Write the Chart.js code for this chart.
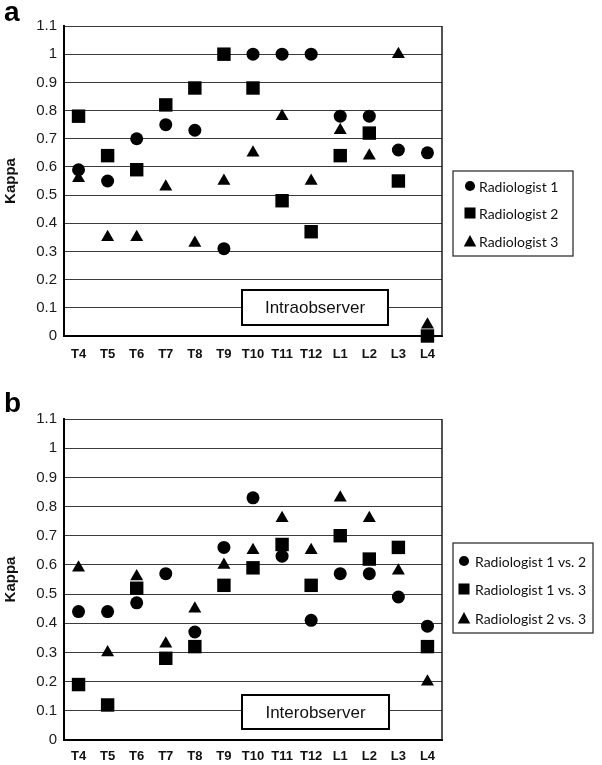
<!DOCTYPE html>
<html><head><meta charset="utf-8">
<script src="https://cdn.jsdelivr.net/npm/chart.js@4"></script>
<style>
html,body{margin:0;padding:0;background:#fff;}
#wrap{position:relative;width:602px;height:765px;overflow:hidden;background:#fff;}
canvas{position:absolute;left:0;}
</style></head><body>
<div id="wrap">
<canvas id="ca" width="602" height="370" style="top:0"></canvas>
<canvas id="cb" width="602" height="395" style="top:370px"></canvas>
</div>
<script>
const categories = ['T4','T5','T6','T7','T8','T9','T10','T11','T12','L1','L2','L3','L4'];
const yTickLabels = ['0','0.1','0.2','0.3','0.4','0.5','0.6','0.7','0.8','0.9','1','1.1'];

const intraLabels = ['Radiologist 1','Radiologist 2','Radiologist 3'];
const intraR1 = [0.59,0.55,0.70,0.75,0.73,0.31,1.00,1.00,1.00,0.78,0.78,0.66,0.65];
const intraR2 = [0.78,0.64,0.59,0.82,0.88,1.00,0.88,0.48,0.37,0.64,0.72,0.55,0.00];
const intraR3 = [0.56,0.35,0.35,0.53,0.33,0.55,0.65,0.78,0.55,0.73,0.64,1.00,0.04];

const interLabels = ['Radiologist 1 vs. 2','Radiologist 1 vs. 3','Radiologist 2 vs. 3'];
const inter12 = [0.44,0.44,0.47,0.57,0.37,0.66,0.83,0.63,0.41,0.57,0.57,0.49,0.39];
const inter13 = [0.19,0.12,0.52,0.28,0.32,0.53,0.59,0.67,0.53,0.70,0.62,0.66,0.32];
const inter23 = [0.59,0.30,0.56,0.33,0.45,0.60,0.65,0.76,0.65,0.83,0.76,0.58,0.20];

const panelTitles = ['a','b'];
const boxTexts = ['Intraobserver','Interobserver'];
const axisTitle = 'Kappa';

const pointStyles = ['circle','rect','triangle'];
const pointRadii = [6.5, 9.5, 7.5];

function drawMarker(ctx, style, x, y, s) {
  ctx.beginPath();
  if (style === 'circle') {
    ctx.arc(x, y, s * 0.42, 0, Math.PI * 2);
  } else if (style === 'rect') {
    ctx.rect(x - s * 0.46, y - s * 0.46, s * 0.92, s * 0.92);
  } else {
    ctx.moveTo(x, y - s * 0.5);
    ctx.lineTo(x + s * 0.52, y + s * 0.45);
    ctx.lineTo(x - s * 0.52, y + s * 0.45);
    ctx.closePath();
  }
  ctx.fill();
}

const extras = {
  id: 'extras',
  beforeDatasetsDraw(chart, args, o) {
    const ctx = chart.ctx, a = chart.chartArea;
    ctx.save();
    // right border of plot
    ctx.strokeStyle = '#1a1a1a';
    ctx.lineWidth = 1.5;
    ctx.beginPath();
    ctx.moveTo(a.right, a.top);
    ctx.lineTo(a.right, a.bottom);
    ctx.stroke();
    // annotation box
    const b = o.box;
    ctx.fillStyle = '#fff';
    ctx.fillRect(b.x, b.y, b.w, b.h);
    ctx.strokeStyle = '#000';
    ctx.lineWidth = 2;
    ctx.strokeRect(b.x, b.y, b.w, b.h);
    ctx.fillStyle = '#111';
    ctx.font = '17px "Liberation Sans", Arial, sans-serif';
    ctx.textAlign = 'center';
    ctx.textBaseline = 'middle';
    ctx.fillText(b.text, b.x + b.w / 2, b.y + b.h / 2 + 1);
    ctx.restore();
  },
  afterDraw(chart, args, o) {
    const ctx = chart.ctx;
    ctx.save();
    // panel letter
    ctx.fillStyle = '#000';
    ctx.font = 'bold 28px "Liberation Sans", Arial, sans-serif';
    ctx.textAlign = 'left';
    ctx.textBaseline = 'alphabetic';
    ctx.fillText(o.letter.text, o.letter.x, o.letter.y);
    // legend
    const L = o.legend;
    ctx.fillStyle = '#fff';
    ctx.fillRect(L.x, L.y, L.w, L.h);
    ctx.strokeStyle = '#333';
    ctx.lineWidth = 1.3;
    ctx.strokeRect(L.x, L.y, L.w, L.h);
    ctx.font = '14px Lato, "Open Sans", sans-serif';
    ctx.textBaseline = 'middle';
    chart.data.datasets.forEach((ds, i) => {
      const y = L.rows[i];
      ctx.fillStyle = '#000';
      drawMarker(ctx, ds.pointStyle, L.mx, y, 12);
      ctx.fillStyle = '#111';
      ctx.fillText(ds.label, L.tx, y + 1);
    });
    ctx.restore();
  }
};

function makeChart(id, labels, series, o) {
  const datasets = series.map((data, i) => ({
    label: labels[i],
    data: data,
    showLine: false,
    pointStyle: pointStyles[i],
    pointRadius: pointRadii[i],
    pointHoverRadius: pointRadii[i],
    pointBackgroundColor: '#000',
    pointBorderColor: '#000',
    pointBorderWidth: 0,
    clip: false
  }));
  return new Chart(document.getElementById(id), {
    type: 'line',
    data: { labels: categories, datasets },
    options: {
      responsive: false,
      animation: false,
      events: [],
      layout: { padding: { left: 0, right: 160, top: o.padTop, bottom: 0 } },
      plugins: {
        legend: { display: false },
        tooltip: { enabled: false },
        extras: o.extras
      },
      scales: {
        x: {
          type: 'category',
          offset: true,
          grid: { display: false, drawTicks: false },
          border: { display: true, color: '#000', width: 2 },
          ticks: {
            padding: o.xPad,
            color: '#111',
            font: { family: '"Liberation Sans", Arial, sans-serif', size: 13, weight: 'bold' },
            maxRotation: 0, autoSkip: false
          },
          afterFit: s => { s.height = o.xHeight; }
        },
        y: {
          min: 0, max: 1.1,
          ticks: {
            stepSize: 0.1,
            padding: 7,
            color: '#1a1a1a',
            font: { family: '"Liberation Sans", Arial, sans-serif', size: 15 },
            callback: (v, i) => yTickLabels[i]
          },
          grid: { color: '#3a3a3a', lineWidth: 1, drawTicks: false },
          border: { display: true, color: '#000', width: 2 },
          title: {
            display: true, text: axisTitle, color: '#111',
            font: { family: '"Liberation Sans", Arial, sans-serif', size: 15, weight: 'bold' },
            padding: { top: 2, bottom: 0 }
          },
          afterFit: s => { s.width = 64; }
        }
      }
    },
    plugins: [extras]
  });
}

makeChart('ca', intraLabels, [intraR1, intraR2, intraR3], {
  padTop: 26, xHeight: 34, xPad: 11,
  extras: {
    box: { x: 242, y: 290, w: 146, h: 35, text: boxTexts[0] },
    letter: { text: panelTitles[0], x: 4, y: 21 },
    legend: { x: 453, y: 171, w: 120, h: 85, mx: 470, tx: 479, rows: [186, 213, 241] }
  }
});

makeChart('cb', interLabels, [inter12, inter13, inter23], {
  padTop: 49, xHeight: 25, xPad: 9,
  extras: {
    box: { x: 242, y: 325, w: 147, h: 34, text: boxTexts[1] },
    letter: { text: panelTitles[1], x: 4, y: 42 },
    legend: { x: 453, y: 173, w: 140, h: 90, mx: 464, tx: 475, rows: [191, 219, 248] }
  }
});
</script>
</body></html>
